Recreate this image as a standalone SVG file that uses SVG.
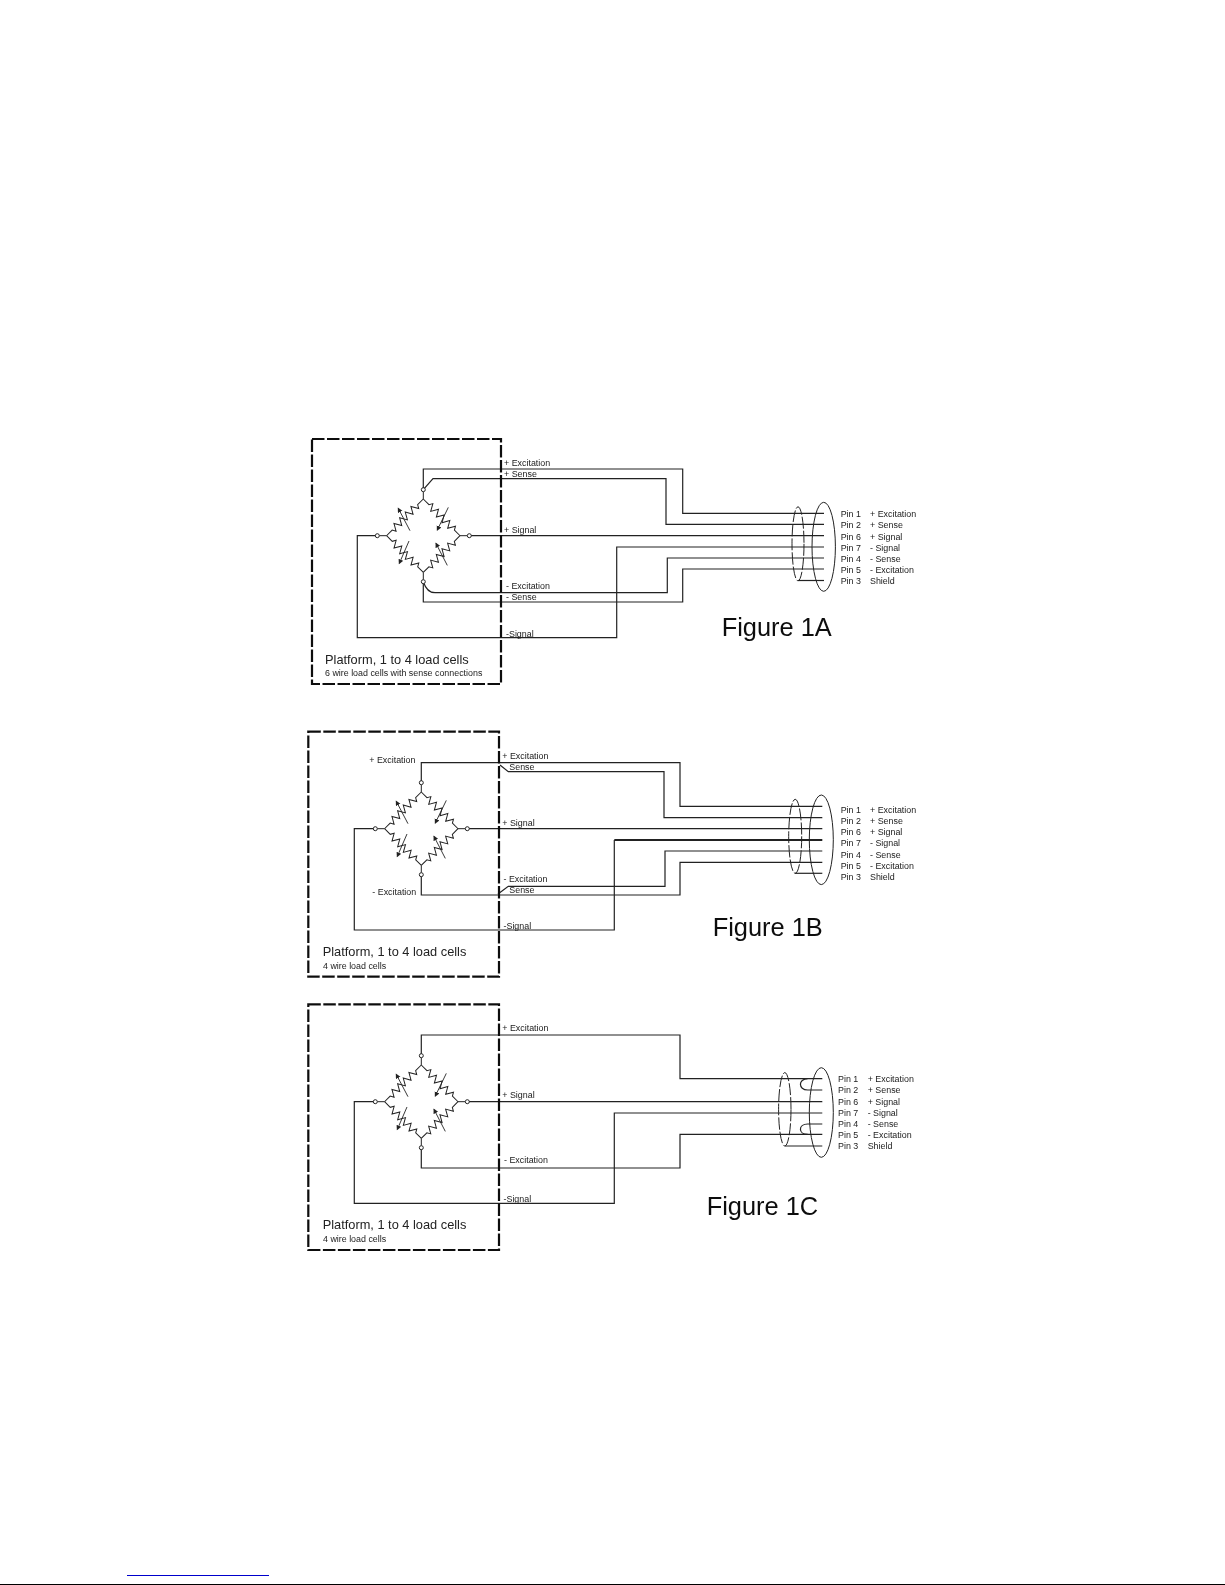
<svg xmlns="http://www.w3.org/2000/svg" xmlns:xlink="http://www.w3.org/1999/xlink" width="1225" height="1585" viewBox="0 0 1225 1585">
<style>
text{font-family:"Liberation Sans",Arial,sans-serif;fill:#222}
.t{font-size:8.9px}
.p{font-size:12.8px}
.s{font-size:8.9px}
.f{font-size:25.4px;fill:#111}
.w{fill:none;stroke:#222;stroke-width:1.2}
.box{fill:none;stroke:#111;stroke-width:2.2;stroke-dasharray:12.5 2.5}
.o{fill:none;stroke:#222;stroke-width:1}
.d{fill:none;stroke:#222;stroke-width:1;stroke-dasharray:12 2}
.n{fill:#fff;stroke:#222;stroke-width:1}
.r{fill:none;stroke:#222;stroke-width:1}
.a{fill:none;stroke:#222;stroke-width:.9;marker-end:url(#ah)}
</style>
<defs>
<filter id="soft" filterUnits="userSpaceOnUse" x="0" y="0" width="1225" height="1585"><feGaussianBlur stdDeviation="0.35"/></filter>
<marker id="ah" markerUnits="userSpaceOnUse" markerWidth="6" markerHeight="6" refX="4" refY="2.5" orient="auto"><path d="M0 0L5 2.5L0 5z" fill="#222"/></marker>
<polyline id="res" class="r" points="0,0 8,0 10,-3.5 14,3.5 18,-3.5 22,3.5 26,-3.5 30,3.5 34,-3.5 38,3.5 42,-3.5 44,0 52,0"/>
<g id="bridge">
<use xlink:href="#res" href="#res" transform="translate(0,-36.7) rotate(45)"/>
<use xlink:href="#res" href="#res" transform="translate(0,-36.7) rotate(135)"/>
<use xlink:href="#res" href="#res" transform="translate(-36.7,0) rotate(45)"/>
<use xlink:href="#res" href="#res" transform="translate(36.7,0) rotate(135)"/>
<line class="a" x1="25" y1="-28.3" x2="14" y2="-5.7"/>
<line class="a" x1="-13.3" y1="-5" x2="-25" y2="-27.3"/>
<line class="a" x1="-14.3" y1="5.3" x2="-24" y2="27.7"/>
<line class="a" x1="24" y1="29.7" x2="12.7" y2="7.7"/>
<path class="r" d="M0-36.7V-44M0 36.7V44M-36.7 0H-44M36.7 0H44"/>
<circle class="n" cx="0" cy="-46" r="2"/>
<circle class="n" cx="0" cy="46" r="2"/>
<circle class="n" cx="-46" cy="0" r="2"/>
<circle class="n" cx="46" cy="0" r="2"/>
</g>
</defs>
<rect width="1225" height="1585" fill="#fff"/>
<g filter="url(#soft)">
<g id="connectors">
<path class="w" d="M423.3 489.7V469H682.7V513.3H824"/>
<path class="w" d="M423.3 489.7L433 478.7H666V524.3H824"/>
<path class="w" d="M469.3 535.7H824"/>
<path class="w" d="M824 547H616.7V637.7H357.3V535.7H377.3"/>
<path class="w" d="M824 558H667.3V592.7H435Q427 592.7 423.3 581.7"/>
<path class="w" d="M824 569H682.7V602H423.3V581.7"/>
<path class="w" d="M798 580.5H824"/>

<path class="w" d="M421.3 782.7V762.7H680V806.3H822.3"/>
<path class="w" d="M500 765L508.3 771.7H664V817.7H822.3"/>
<path class="w" d="M467.3 828.7H822.3"/>
<path class="w" style="stroke-width:1.8" d="M822.3 840H614.3"/>
<path class="w" d="M614.3 840V930H354.3V828.7H375.3"/>
<path class="w" d="M822.3 851H665V886.3H508.3L498 894"/>
<path class="w" d="M822.3 862.3H680V895H421.3V874.7"/>
<path class="w" d="M795 873.3H822.3"/>

<path class="w" d="M421.3 1055.7V1035H680V1078.7H822.3"/>
<path class="w" d="M807.7 1078.7C798 1078.7 798 1090 807.7 1090H822.3"/>
<path class="w" d="M467.3 1101.7H822.3"/>
<path class="w" d="M822.3 1113H614.3V1203.3H354.3V1101.7H375.3"/>
<path class="w" d="M822.3 1124H807.7C798 1124 798 1134.3 807.7 1134.3"/>
<path class="w" d="M421.3 1147.7V1168H680V1134.3H822.3"/>
<path class="w" d="M785 1146H822.3"/>
</g>

<g id="platform-1a">
<rect class="box" x="312" y="439" width="189" height="245"/>
<text class="p" x="325" y="664">Platform, 1 to 4 load cells</text>
<text class="s" x="325" y="675.7">6 wire load cells with sense connections</text>
<text class="t" x="504" y="466">+ Excitation</text>
<text class="t" x="504" y="477">+ Sense</text>
<text class="t" x="504" y="532.7">+ Signal</text>
<text class="t" x="506" y="589.3">- Excitation</text>
<text class="t" x="506" y="600.3">- Sense</text>
<text class="t" x="506" y="636.7">-Signal</text>
</g>
<g id="bridge-1a"><use xlink:href="#bridge" href="#bridge" transform="translate(423.3,535.7)"/></g>
<g id="cable-1a">
<ellipse class="d" cx="798" cy="543.8" rx="6" ry="37"/>
<ellipse class="o" cx="823.7" cy="546.8" rx="11.7" ry="44.5"/>
<text class="t" x="840.7" y="517.3">Pin 1</text><text class="t" x="870" y="517.3">+ Excitation</text>
<text class="t" x="840.7" y="528.3">Pin 2</text><text class="t" x="870" y="528.3">+ Sense</text>
<text class="t" x="840.7" y="539.5">Pin 6</text><text class="t" x="870" y="539.5">+ Signal</text>
<text class="t" x="840.7" y="551">Pin 7</text><text class="t" x="870" y="551">- Signal</text>
<text class="t" x="840.7" y="562">Pin 4</text><text class="t" x="870" y="562">- Sense</text>
<text class="t" x="840.7" y="573">Pin 5</text><text class="t" x="870" y="573">- Excitation</text>
<text class="t" x="840.7" y="584.3">Pin 3</text><text class="t" x="870" y="584.3">Shield</text>
</g>
<text id="title-1a" class="f" x="721.7" y="636">Figure 1A</text>

<g id="platform-1b">
<rect class="box" x="308.3" y="731.7" width="190.7" height="245"/>
<text class="p" x="322.7" y="956">Platform, 1 to 4 load cells</text>
<text class="s" x="323" y="969">4 wire load cells</text>
<text class="t" x="369.3" y="763.3">+ Excitation</text>
<text class="t" x="372.3" y="895.3">- Excitation</text>
<text class="t" x="502.3" y="759">+ Excitation</text>
<text class="t" x="509.3" y="770">Sense</text>
<text class="t" x="502.3" y="825.7">+ Signal</text>
<text class="t" x="503.5" y="882.3">- Excitation</text>
<text class="t" x="509.3" y="893">Sense</text>
<text class="t" x="503.5" y="929">-Signal</text>
</g>
<g id="bridge-1b"><use xlink:href="#bridge" href="#bridge" transform="translate(421.3,828.7)"/></g>
<g id="cable-1b">
<ellipse class="d" cx="795.2" cy="836.3" rx="6.5" ry="37"/>
<ellipse class="o" cx="821.3" cy="839.8" rx="12" ry="44.8"/>
<text class="t" x="840.7" y="812.7">Pin 1</text><text class="t" x="870" y="812.7">+ Excitation</text>
<text class="t" x="840.7" y="824">Pin 2</text><text class="t" x="870" y="824">+ Sense</text>
<text class="t" x="840.7" y="835">Pin 6</text><text class="t" x="870" y="835">+ Signal</text>
<text class="t" x="840.7" y="846.3">Pin 7</text><text class="t" x="870" y="846.3">- Signal</text>
<text class="t" x="840.7" y="857.7">Pin 4</text><text class="t" x="870" y="857.7">- Sense</text>
<text class="t" x="840.7" y="869">Pin 5</text><text class="t" x="870" y="869">- Excitation</text>
<text class="t" x="840.7" y="880">Pin 3</text><text class="t" x="870" y="880">Shield</text>
</g>
<text id="title-1b" class="f" x="712.7" y="936">Figure 1B</text>

<g id="platform-1c">
<rect class="box" x="308.3" y="1004.3" width="190.7" height="245.7"/>
<text class="p" x="322.7" y="1229">Platform, 1 to 4 load cells</text>
<text class="s" x="323" y="1241.7">4 wire load cells</text>
<text class="t" x="502.3" y="1031.3">+ Excitation</text>
<text class="t" x="502.3" y="1097.7">+ Signal</text>
<text class="t" x="504" y="1163.3">- Excitation</text>
<text class="t" x="503.5" y="1201.7">-Signal</text>
</g>
<g id="bridge-1c"><use xlink:href="#bridge" href="#bridge" transform="translate(421.3,1101.7)"/></g>
<g id="cable-1c">
<ellipse class="d" cx="784.8" cy="1109.3" rx="6.2" ry="36.7"/>
<ellipse class="o" cx="821.3" cy="1112.5" rx="12" ry="44.8"/>
<text class="t" x="838" y="1082">Pin 1</text><text class="t" x="867.7" y="1082">+ Excitation</text>
<text class="t" x="838" y="1093.3">Pin 2</text><text class="t" x="867.7" y="1093.3">+ Sense</text>
<text class="t" x="838" y="1104.7">Pin 6</text><text class="t" x="867.7" y="1104.7">+ Signal</text>
<text class="t" x="838" y="1115.7">Pin 7</text><text class="t" x="867.7" y="1115.7">- Signal</text>
<text class="t" x="838" y="1126.7">Pin 4</text><text class="t" x="867.7" y="1126.7">- Sense</text>
<text class="t" x="838" y="1138">Pin 5</text><text class="t" x="867.7" y="1138">- Excitation</text>
<text class="t" x="838" y="1149">Pin 3</text><text class="t" x="867.7" y="1149">Shield</text>
</g>
<text id="title-1c" class="f" x="706.7" y="1215">Figure 1C</text>
</g>
<line x1="127" y1="1575.5" x2="269" y2="1575.5" stroke="#0000cc" stroke-width="1"/>
<line x1="0" y1="1584.5" x2="1225" y2="1584.5" stroke="#000" stroke-width="1"/>
</svg>
